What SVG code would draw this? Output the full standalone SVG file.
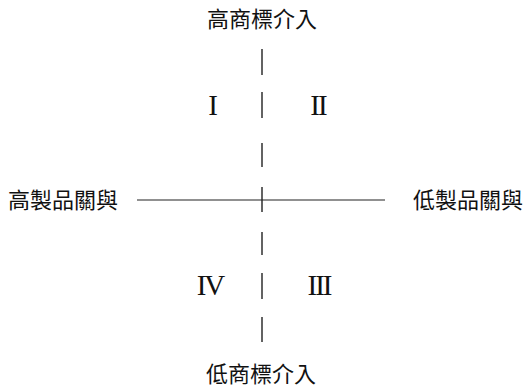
<svg xmlns="http://www.w3.org/2000/svg" width="530" height="389" viewBox="0 0 530 389">
<style>
.cjk{font-family:"Noto Sans CJK TC","Noto Sans CJK SC",sans-serif;font-size:22px;fill:#111;}
.rn{font-family:"Liberation Serif",serif;font-size:29px;fill:#111;text-anchor:middle;letter-spacing:-2px;}
.ax{stroke:#222;fill:none;}
</style>
<rect width="530" height="389" fill="#fff"/>
<g id="connectors">
<path class="ax" stroke-width="1.4" d="M262 49V75M262 92V118M262 143V167M262 187V212M262 232V255M262 273V299M262 317V342"/>
<path class="ax" stroke-width="1.1" d="M137 200H385"/>
</g>
<g id="top"><text class="cjk" x="262" y="27" text-anchor="middle">高商標介入</text></g>
<g id="bottom"><text class="cjk" x="261" y="382" text-anchor="middle">低商標介入</text></g>
<g id="left"><text class="cjk" x="8" y="208">高製品關與</text></g>
<g id="right"><text class="cjk" x="413" y="208">低製品關與</text></g>
<g id="q1"><text class="rn" x="212" y="115">I</text></g>
<g id="q2"><text class="rn" x="318" y="115">II</text></g>
<g id="q4"><text class="rn" x="210" y="295">IV</text></g>
<g id="q3"><text class="rn" x="319" y="295">III</text></g>
</svg>
